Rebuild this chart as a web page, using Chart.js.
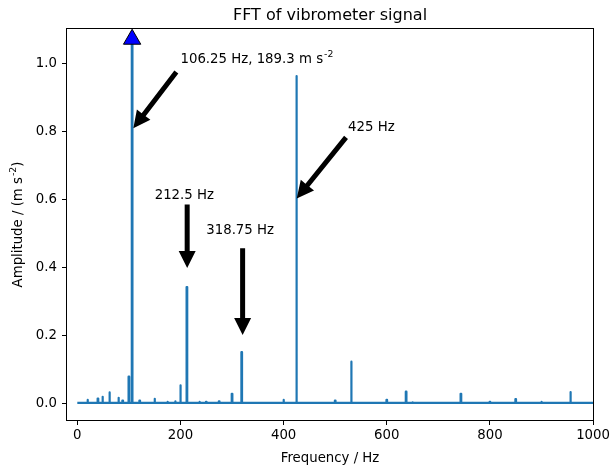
<!DOCTYPE html>
<html>
<head>
<meta charset="utf-8">
<title>FFT of vibrometer signal</title>
<script src="https://cdn.jsdelivr.net/npm/chart.js@4"></script>
<style>
  html, body { margin: 0; padding: 0; background: #fff; }
</style>
</head>
<body>
<canvas id="fftChart" width="613" height="470"></canvas>
<script>
// spectrum peaks (Hz, m s^-2 normalised)
const peakFreqs = [20, 40, 49, 62.5, 80, 88, 100, 106.25, 121, 150, 175, 190, 200, 212.5, 237, 250, 275, 300, 318.75, 400, 425, 500, 531.25, 600, 637.5, 650, 743.75, 800, 850, 900, 956.25];
const peakAmps  = [0.012, 0.016, 0.021, 0.034, 0.018, 0.010, 0.080, 1.070, 0.010, 0.015, 0.006, 0.008, 0.055, 0.343, 0.006, 0.006, 0.008, 0.030, 0.152, 0.012, 0.962, 0.010, 0.124, 0.012, 0.036, 0.005, 0.030, 0.006, 0.014, 0.006, 0.035];
const baseLevel = 0.003;
const freqRange = [0, 1000];

const xTicks = [0, 200, 400, 600, 800, 1000];
const yTicks = [0.0, 0.2, 0.4, 0.6, 0.8, 1.0];

// main peak marker
const markerFreq = 106.25;
const markerAmp = 1.07;

// annotations
const annLabels = ["106.25 Hz, 189.3 m s", "212.5 Hz", "318.75 Hz", "425 Hz"];
const annSups   = ["-2", "", "", ""];
const annTextX  = [200, 150, 250, 525];
const annTextY  = [1.0, 0.6, 0.5, 0.8];
const arrowTailX = [192, 213, 320.5, 521];
const arrowTailY = [0.974, 0.585, 0.457, 0.782];
const arrowTipX  = [108.6, 213, 320.5, 425.4];
const arrowTipY  = [0.809, 0.399, 0.202, 0.603];

const FONT = "'DejaVu Sans', sans-serif";

// build the line points (each peak spans one narrow bin)
const binHalf = 0.6;
const spectrum = [{ x: freqRange[0], y: baseLevel }];
peakFreqs.forEach((f, i) => {
    spectrum.push({ x: f - binHalf, y: baseLevel });
    spectrum.push({ x: f - binHalf, y: peakAmps[i] });
    spectrum.push({ x: f + binHalf, y: peakAmps[i] });
    spectrum.push({ x: f + binHalf, y: baseLevel });
});
spectrum.push({ x: freqRange[1], y: baseLevel });

function drawArrow(ctx, x0, y0, x1, y1) {
    const shaft = 5, headW = 17, headL = 17;
    const dx = x1 - x0, dy = y1 - y0;
    const len = Math.hypot(dx, dy);
    const ux = dx / len, uy = dy / len;
    const nx = -uy, ny = ux;
    const bx = x1 - ux * headL, by = y1 - uy * headL;
    ctx.beginPath();
    ctx.moveTo(x0 + nx * shaft / 2, y0 + ny * shaft / 2);
    ctx.lineTo(bx + nx * shaft / 2, by + ny * shaft / 2);
    ctx.lineTo(bx + nx * headW / 2, by + ny * headW / 2);
    ctx.lineTo(x1, y1);
    ctx.lineTo(bx - nx * headW / 2, by - ny * headW / 2);
    ctx.lineTo(bx - nx * shaft / 2, by - ny * shaft / 2);
    ctx.lineTo(x0 - nx * shaft / 2, y0 - ny * shaft / 2);
    ctx.closePath();
    ctx.fillStyle = "#000";
    ctx.fill();
}

function drawSupText(ctx, x, y, main, sup, size) {
    ctx.font = size + "px " + FONT;
    ctx.fillText(main, x, y);
    if (sup) {
        const w = ctx.measureText(main).width;
        ctx.font = (size * 0.7) + "px " + FONT;
        ctx.fillText(sup, x + w + 1, y - size * 0.45);
    }
}

const decorPlugin = {
    id: "decor",
    afterDraw(chart) {
        const ctx = chart.ctx;
        const a = chart.chartArea;
        const xs = chart.scales.x, ys = chart.scales.y;
        ctx.save();

        // annotations
        ctx.fillStyle = "#000";
        ctx.textAlign = "left";
        ctx.textBaseline = "alphabetic";
        annLabels.forEach((t, i) => {
            drawSupText(ctx, xs.getPixelForValue(annTextX[i]), ys.getPixelForValue(annTextY[i]), t, annSups[i], 13.3);
            drawArrow(ctx,
                xs.getPixelForValue(arrowTailX[i]), ys.getPixelForValue(arrowTailY[i]),
                xs.getPixelForValue(arrowTipX[i]), ys.getPixelForValue(arrowTipY[i]));
        });

        // axes box
        ctx.strokeStyle = "#000";
        ctx.lineWidth = 1;
        ctx.strokeRect(Math.round(a.left) - 0.5, Math.round(a.top) - 0.5, Math.round(a.right - a.left) + 1, Math.round(a.bottom - a.top) + 1);

        // title
        ctx.fillStyle = "#000";
        ctx.textAlign = "center";
        ctx.font = "16px " + FONT;
        ctx.fillText("FFT of vibrometer signal", (a.left + a.right) / 2, 20);

        // x label
        ctx.font = "13.3px " + FONT;
        ctx.fillText("Frequency / Hz", (a.left + a.right) / 2, 462);

        // y label with superscript
        ctx.translate(22, (a.top + a.bottom) / 2);
        ctx.rotate(-Math.PI / 2);
        const main = "Amplitude / (m s", sup = "-2", tail = ")";
        ctx.font = "13.3px " + FONT;
        const w1 = ctx.measureText(main).width;
        const w3 = ctx.measureText(tail).width;
        ctx.font = "9.3px " + FONT;
        const w2 = ctx.measureText(sup).width;
        let x = -(w1 + w2 + w3 + 1) / 2;
        ctx.textAlign = "left";
        ctx.font = "13.3px " + FONT;
        ctx.fillText(main, x, 0);
        ctx.font = "9.3px " + FONT;
        ctx.fillText(sup, x + w1 + 1, -6);
        ctx.font = "13.3px " + FONT;
        ctx.fillText(tail, x + w1 + w2 + 1, 0);

        ctx.restore();
    }
};

function renderChart() {
    new Chart(document.getElementById("fftChart"), {
        type: "line",
        data: {
            datasets: [
                {
                    label: "peak",
                    data: [{ x: markerFreq, y: markerAmp }],
                    showLine: false,
                    pointStyle: "triangle",
                    pointRadius: 10,
                    pointBackgroundColor: "#0000ff",
                    pointBorderColor: "#000",
                    pointBorderWidth: 1,
                    clip: false
                },
                {
                    label: "FFT",
                    data: spectrum,
                    borderColor: "#1f77b4",
                    borderWidth: 2.2,
                    borderJoinStyle: "round",
                    pointRadius: 0,
                    tension: 0,
                    fill: false
                }
            ]
        },
        options: {
            responsive: false,
            animation: false,
            devicePixelRatio: 1,
            layout: { padding: { top: 29, right: 19, left: 0, bottom: 0 } },
            plugins: {
                legend: { display: false },
                tooltip: { enabled: false },
                title: { display: false }
            },
            scales: {
                x: {
                    type: "linear",
                    min: -20,
                    max: 1000,
                    afterFit: s => { s.height = 50; },
                    afterBuildTicks: s => { s.ticks = xTicks.map(v => ({ value: v })); },
                    ticks: {
                        color: "#000",
                        font: { family: FONT, size: 13.3 },
                        padding: 3,
                        maxRotation: 0,
                        autoSkip: false,
                        callback: v => String(v)
                    },
                    grid: { drawOnChartArea: false, drawTicks: true, tickLength: 5, tickColor: "#000", color: "#000" },
                    border: { display: false }
                },
                y: {
                    type: "linear",
                    min: -0.047,
                    max: 1.1,
                    afterFit: s => { s.width = 67; },
                    afterBuildTicks: s => { s.ticks = yTicks.map(v => ({ value: v })); },
                    ticks: {
                        color: "#000",
                        font: { family: FONT, size: 13.3 },
                        padding: 5,
                        autoSkip: false,
                        callback: v => v.toFixed(1)
                    },
                    grid: { drawOnChartArea: false, drawTicks: true, tickLength: 5, tickColor: "#000", color: "#000" },
                    border: { display: false }
                }
            }
        },
        plugins: [decorPlugin]
    });
}

document.addEventListener("DOMContentLoaded", renderChart);
</script>
</body>
</html>
